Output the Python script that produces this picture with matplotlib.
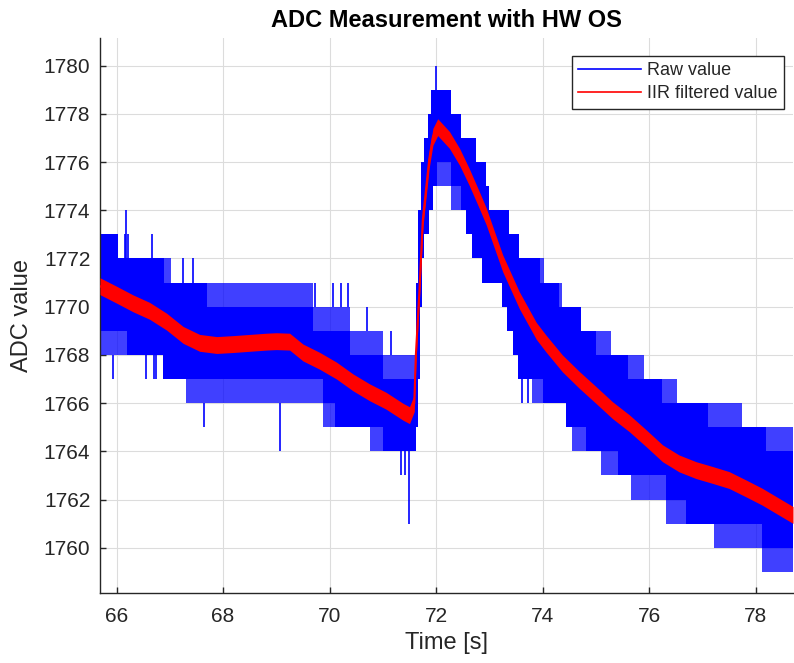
import numpy as np
import matplotlib
matplotlib.use('Agg')
import matplotlib.pyplot as plt
from matplotlib.lines import Line2D

plt.rcParams['font.family'] = ['Liberation Sans', 'DejaVu Sans']

# Raw value band, upper edge (step start time, solid level, sparse outer level)
top_t = [65.69, 66.03, 66.90, 67.03, 67.70, 69.68, 70.38, 71.00, 71.60, 71.63, 71.66,
         71.72, 71.78, 71.84, 71.90, 72.28, 72.47, 72.75, 72.94, 73.00, 73.37, 73.56,
         73.95, 74.02, 74.30, 74.37, 74.72, 75.00, 75.28, 75.60, 75.90, 76.25, 76.52,
         77.10, 77.74, 78.20]
top_core = [1773, 1772, 1771, 1771, 1770, 1769, 1768, 1767, 1768, 1771, 1774,
            1776, 1777, 1778, 1779, 1778, 1777, 1776, 1775, 1774, 1773, 1772,
            1771, 1771, 1770, 1770, 1769, 1768, 1768, 1767, 1767, 1766, 1766,
            1765, 1765, 1764]
top_outer = [1773, 1772, 1772, 1771, 1771, 1770, 1769, 1768, 1768, 1771, 1774,
             1776, 1777, 1778, 1779, 1778, 1777, 1776, 1775, 1774, 1773, 1772,
             1772, 1771, 1771, 1770, 1769, 1769, 1768, 1768, 1767, 1767, 1766,
             1766, 1765, 1765]

# Raw value band, lower edge
bot_t = [65.69, 66.20, 66.87, 67.31, 69.87, 70.10, 70.75, 71.00, 71.63, 71.66, 71.70,
         71.74, 71.78, 71.86, 71.95, 72.02, 72.28, 72.47, 72.56, 72.68, 72.87, 73.24,
         73.33, 73.44, 73.53, 73.80, 74.00, 74.44, 74.56, 74.81, 75.10, 75.41, 75.65,
         76.31, 76.69, 77.22, 78.12]
bot_core = [1769, 1768, 1767, 1767, 1766, 1765, 1765, 1764, 1765, 1767, 1770,
            1772, 1773, 1774, 1775, 1776, 1775, 1774, 1773, 1772, 1771, 1770,
            1769, 1768, 1767, 1767, 1766, 1765, 1765, 1764, 1764, 1763, 1763,
            1762, 1761, 1761, 1760]
bot_outer = [1768, 1768, 1767, 1766, 1765, 1765, 1764, 1764, 1765, 1767, 1770,
             1772, 1773, 1774, 1775, 1775, 1774, 1774, 1773, 1772, 1771, 1770,
             1769, 1768, 1767, 1766, 1766, 1765, 1764, 1764, 1763, 1763, 1762,
             1761, 1761, 1760, 1759]

# single raw excursions outside the band
spike_t = [66.16, 66.17, 66.21, 66.67, 67.24, 67.43, 69.72, 70.06, 70.22, 70.34, 70.70,
           71.16, 72.00, 65.94, 66.56, 66.70, 66.75, 67.64, 69.06, 71.34, 71.41, 71.50,
           73.62, 73.72]
spike_from = [1772, 1772, 1772, 1772, 1771, 1771, 1770, 1770, 1770, 1770, 1769,
              1768, 1779, 1768, 1768, 1768, 1768, 1766, 1766, 1764, 1764, 1764,
              1767, 1767]
spike_to = [1773, 1774, 1773, 1773, 1772, 1772, 1771, 1771, 1771, 1771, 1770,
            1769, 1780, 1767, 1767, 1767, 1767, 1765, 1764, 1763, 1763, 1761,
            1766, 1766]

# IIR filtered value
filt_t = [65.69, 66.00, 66.31, 66.62, 66.94, 67.25, 67.56, 67.88, 68.19, 68.50, 68.81,
          69.00, 69.25, 69.50, 69.81, 70.13, 70.44, 70.75, 71.06, 71.38, 71.50, 71.59,
          71.62, 71.69, 71.75, 71.87, 71.94, 72.03, 72.25, 72.44, 72.62, 72.81, 72.94,
          73.25, 73.56, 73.88, 74.06, 74.37, 74.69, 75.00, 75.31, 75.63, 75.94, 76.25,
          76.56, 76.88, 77.19, 77.50, 77.81, 78.12, 78.44, 78.70]
filt_v = [1770.85, 1770.50, 1770.14, 1769.83, 1769.38, 1768.83, 1768.50, 1768.41, 1768.45,
          1768.50, 1768.55, 1768.57, 1768.55, 1768.10, 1767.76, 1767.35, 1766.86, 1766.45,
          1766.10, 1765.64, 1765.50, 1766.00, 1768.00, 1770.80, 1773.60, 1776.10, 1777.05,
          1777.45, 1776.92, 1776.22, 1775.39, 1774.43, 1773.75, 1771.80, 1770.28, 1769.00,
          1768.48, 1767.65, 1766.96, 1766.34, 1765.71, 1765.16, 1764.55, 1763.92, 1763.50,
          1763.22, 1763.02, 1762.81, 1762.47, 1762.12, 1761.70, 1761.36]
filt_noise = 0.35

t_end = 78.70


def step_path(t, v):
    x = np.repeat(np.append(t, t_end), 2)[1:-1]
    y = np.repeat(v, 2)
    return x, y


def band(top_v, bot_v):
    xt, yt = step_path(top_t, top_v)
    xb, yb = step_path(bot_t, bot_v)
    return np.concatenate([xt, xb[::-1]]), np.concatenate([yt, yb[::-1]])


fig = plt.figure(figsize=(7.94, 6.63), dpi=100)
ax = fig.add_axes([100 / 794, 1 - 593.3 / 663, 693 / 794, 555.6 / 663])

bx, by = band(top_outer, bot_outer)
ax.fill(bx, by, color='blue', alpha=0.75, lw=0, zorder=2)
bx, by = band(top_core, bot_core)
ax.fill(bx, by, color='blue', lw=0, zorder=2)
ax.vlines(spike_t, spike_from, spike_to, color='blue', lw=1.2, zorder=2)

fv = np.array(filt_v)
ax.fill_between(filt_t, fv - filt_noise, fv + filt_noise, color='red', lw=0, zorder=3)
ax.plot(filt_t, fv, color='red', lw=1.5, zorder=3)

ax.set_xlim(65.69, t_end)
ax.set_ylim(1758.11, 1781.16)
ax.set_xticks(np.arange(66, 79, 2))
ax.set_yticks(np.arange(1760, 1781, 2))
ax.grid(True, color='#dcdcdc', lw=0.8)
ax.set_axisbelow(True)
for s in ['top', 'right']:
    ax.spines[s].set_visible(False)
for s in ['left', 'bottom']:
    ax.spines[s].set_color('#262626')
    ax.spines[s].set_linewidth(1.0)
ax.tick_params(axis='both', direction='in', length=4, width=1.0, color='#262626',
               labelcolor='#262626', labelsize=15)
ax.tick_params(axis='x', pad=10)
ax.tick_params(axis='y', pad=7)

ax.set_title('ADC Measurement with HW OS', fontsize=17, fontweight='bold', pad=8)
ax.set_xlabel('Time [s]', fontsize=17, color='#262626', labelpad=4)
ax.set_ylabel('ADC value', fontsize=17, color='#262626', labelpad=8)

handles = [Line2D([], [], color='blue', lw=1.2), Line2D([], [], color='red', lw=1.2)]
leg = ax.legend(handles, ['Raw value', 'IIR filtered value'], loc='upper right',
                bbox_to_anchor=(0.9874, 0.9676), borderaxespad=0, fontsize=13,
                handlelength=3.5, handletextpad=0.35, labelspacing=0.35,
                borderpad=0.35, fancybox=False, framealpha=1)
leg.get_frame().set_edgecolor('#262626')
leg.get_frame().set_linewidth(1.0)
for txt in leg.get_texts():
    txt.set_color('#262626')

plt.savefig('out.png', dpi=100)
